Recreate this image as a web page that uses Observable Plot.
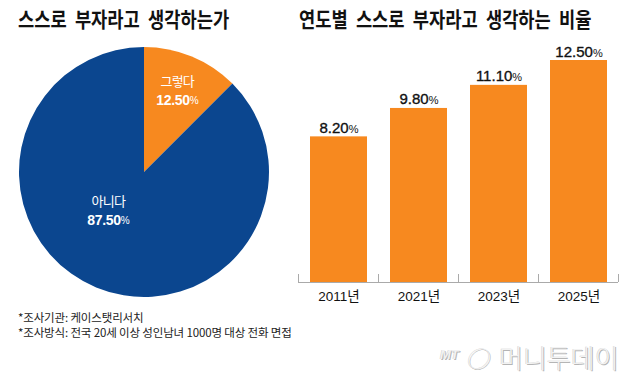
<!DOCTYPE html>
<html>
<head>
<meta charset="utf-8">
<script src="https://cdn.jsdelivr.net/npm/d3@7"></script>
<script src="https://cdn.jsdelivr.net/npm/@observablehq/plot@0.6"></script>
<style>
  html, body { margin: 0; padding: 0; background: #fff; }
  #root { position: relative; width: 640px; height: 384px; overflow: hidden; background: #fff;
          font-family: "Noto Sans CJK KR", sans-serif; color: #111; }
  .title { position: absolute; top: 8px; font-weight: 700; font-size: 21px; line-height: 21px;
           letter-spacing: 0; word-spacing: 5px; white-space: nowrap; color: #111;
           transform: scaleX(0.84); transform-origin: 0 0; }
  .note { position: absolute; left: 18px; font-size: 11.5px; line-height: 15px; letter-spacing: -0.15px;
          white-space: nowrap; color: #222; }
  .wm { position: absolute; white-space: nowrap; color: #f2f2f2;
        text-shadow: 1px 1px 0 #b5b5b5, -0.5px -0.5px 0 #d0d0d0; }
  #pie, #bars { position: absolute; }
  #pie { left: -1px; top: 22px; }
  #bars { left: 290px; top: 40px; }
</style>
</head>
<body>
<div id="root"></div>
<script>
// ---- data ----
const leftTitle = "스스로 부자라고 생각하는가";
const rightTitle = "연도별 스스로 부자라고 생각하는 비율";
const pieLabels = ["그렇다", "아니다"];
const pieValues = [12.5, 87.5];
const years = ["2011", "2021", "2023", "2025"];
const rates = [8.2, 9.8, 11.1, 12.5];
const notes = ["*조사기관: 케이스탯리서치", "*조사방식: 전국 20세 이상 성인남녀 1000명 대상 전화 면접"];
const yearSuffix = "년";

// ---- style ----
const ORANGE = "#F7891F";
const BLUE = "#0B468F";
const NUM_FONT = "'Liberation Sans', 'Noto Sans CJK KR', sans-serif";
const KR_FONT = "'Noto Sans CJK KR', sans-serif";

const root = document.getElementById("root");

// titles
const t1 = document.createElement("div");
t1.className = "title"; t1.style.left = "18px"; t1.textContent = leftTitle;
root.appendChild(t1);
const t2 = document.createElement("div");
t2.className = "title"; t2.style.left = "299px"; t2.textContent = rightTitle;
root.appendChild(t2);

// ---- pie ----
const pieData = pieLabels.map((label, i) => ({label, value: pieValues[i]}));
const pieW = 290, pieH = 300, R = 125;
const labelShift = [[0, 0], [-15, -10]];
const labelRadius = [87, 54];

function pieMark(index, scales, values, dimensions) {
  const w = (dimensions && dimensions.width) || pieW;
  const h = (dimensions && dimensions.height) || pieH;
  const g = d3.create("svg:g").attr("transform", `translate(${w / 2},${h / 2})`);
  const arcs = d3.pie().value(d => d.value).sort(null)(pieData);
  const arc = d3.arc().innerRadius(0).outerRadius(R);
  g.selectAll("path").data(arcs).join("path")
    .attr("d", arc)
    .attr("fill", (d, i) => i === 0 ? ORANGE : BLUE);
  arcs.forEach((a, i) => {
    const la = d3.arc().innerRadius(labelRadius[i]).outerRadius(labelRadius[i]);
    const [cx, cy] = la.centroid(a);
    const x = cx + labelShift[i][0], y = cy + labelShift[i][1];
    g.append("text")
      .attr("x", x).attr("y", y - 9).attr("text-anchor", "middle").attr("dominant-baseline", "middle")
      .attr("fill", "#fff").attr("font-family", KR_FONT).attr("font-size", 13)
      .attr("letter-spacing", "-0.8")
      .text(a.data.label);
    const tv = g.append("text")
      .attr("x", x).attr("y", y + 9).attr("text-anchor", "middle").attr("dominant-baseline", "middle")
      .attr("fill", "#fff").attr("font-family", NUM_FONT).attr("font-weight", 700).attr("font-size", 14)
      .attr("letter-spacing", "-0.3");
    tv.append("tspan").text(a.data.value.toFixed(2));
    tv.append("tspan").attr("font-size", 10).attr("font-weight", 400).text("%");
  });
  return g.node();
}

const pie = Plot.plot({
  width: pieW, height: pieH,
  margin: 0,
  style: {background: "transparent", overflow: "visible"},
  marks: [pieMark]
});
pie.id = "pie";
root.appendChild(pie);

// ---- bars ----
const barData = years.map((year, i) => ({year, rate: rates[i]}));

function edgeTicks(index, scales) {
  const x = scales.x, y = scales.y;
  const g = d3.create("svg:g").attr("stroke", "#aaa");
  const [r0] = x.range();
  const step = x.step();
  const y0 = y(0);
  for (let k = 0; k <= years.length; k++) {
    const xx = r0 + k * step + 0.5;
    g.append("line").attr("x1", xx).attr("x2", xx).attr("y1", y0).attr("y2", y0 - 8);
  }
  return g.node();
}

const bars = Plot.plot({
  width: 350, height: 270,
  marginLeft: 8, marginRight: 22, marginTop: 20, marginBottom: 28,
  style: {background: "transparent", overflow: "visible", fontFamily: NUM_FONT, fontSize: "13.5px", color: "#111"},
  x: {domain: years, paddingInner: 0.29, paddingOuter: 0.145, label: null,
      tickSize: 0, tickPadding: 9, tickFormat: d => d + yearSuffix},
  y: {domain: [0, 12.5], axis: null},
  marks: [
    Plot.barY(barData, {x: "year", y: "rate", fill: ORANGE}),
    Plot.ruleY([0], {stroke: "#aaa"}),
    edgeTicks,
    Plot.text(barData, {x: "year", y: "rate", text: d => d.rate.toFixed(2) + "%",
      lineAnchor: "bottom", dy: -4, fontSize: 15, fill: "#111", stroke: "#111", strokeWidth: 0.35})
  ]
});
bars.id = "bars";
root.appendChild(bars);

// smaller % sign in value labels
d3.select(bars).selectAll("g[aria-label='text'] text").each(function () {
  const s = this.textContent;
  if (s.endsWith("%")) {
    const sel = d3.select(this);
    sel.text(null);
    sel.append("tspan").text(s.slice(0, -1));
    sel.append("tspan").attr("font-size", 11).attr("stroke-width", 0).text("%");
  }
});
d3.select(bars).selectAll("g[aria-label='x-axis tick label'] text, g[aria-label='x-axis'] text")
  .attr("fill", "#111");

// notes
notes.forEach((n, i) => {
  const d = document.createElement("div");
  d.className = "note";
  d.style.top = (310 + i * 15) + "px";
  d.textContent = n;
  root.appendChild(d);
});

// watermark
const wm1 = document.createElement("div");
wm1.className = "wm";
wm1.style.left = "440px"; wm1.style.top = "347px";
wm1.style.font = "italic 700 13px 'Liberation Sans', sans-serif";
wm1.textContent = "MT";
root.appendChild(wm1);
const wm2 = document.createElement("div");
wm2.className = "wm";
wm2.style.left = "466px"; wm2.style.top = "341px";
wm2.style.font = "italic 300 22px 'Noto Sans CJK KR', sans-serif";
wm2.textContent = "◯";
root.appendChild(wm2);
const wm3 = document.createElement("div");
wm3.className = "wm";
wm3.style.left = "499px"; wm3.style.top = "338px";
wm3.style.font = "300 26px 'Noto Sans CJK KR', sans-serif";
wm3.style.letterSpacing = "0px";
wm3.textContent = "머니투데이";
root.appendChild(wm3);
</script>
</body>
</html>
